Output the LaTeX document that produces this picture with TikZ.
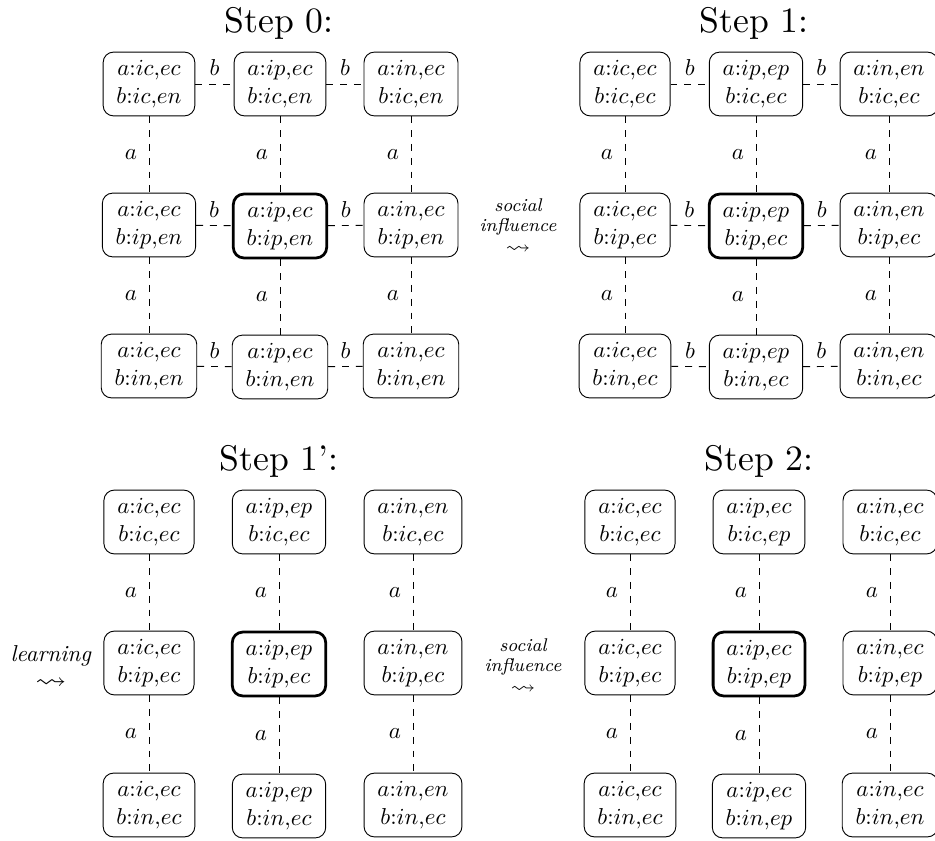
\documentclass[tikz,border=0pt]{standalone}
\usepackage{amssymb}
\usepackage{graphicx}
\usepackage{fontspec}
\newfontfamily\ttlfont{lmroman10-regular}[Extension=.otf, Ligatures=TeX]
\newcommand\abst[4]{$a{:}#1{,}#2$\\$b{:}#3{,}#4$}
\newcommand\sqarr{\scalebox{1.35}[1.1]{$\rightsquigarrow$}}
\tikzset{
  st/.style={draw, rounded corners=4.5pt, align=center, inner xsep=5.8pt, inner ysep=3.6pt},
  hi/.style={st, line width=1.2pt},
  conn/.style={dashed},
  ttl/.style={font=\ttlfont\fontsize{15.5}{18}\selectfont, anchor=base},
  side/.style={align=center},
  sideS/.style={align=center, font=\footnotesize\itshape},
}
\begin{document}
\begin{tikzpicture}[x=0.4348pt, y=-0.4348pt]
\useasboundingbox (0,0) rectangle (935,841);
% titles
\node[ttl] (t0) at (279,32) {Step 0:};
\node[ttl] (t1) at (754,32) {Step 1:};
\node[ttl] (t2) at (279,470) {Step 1’:};
\node[ttl] (t3) at (759,470) {Step 2:};
% Step 0
\node[st] (A11) at (149,84) {\abst{ic}{ec}{ic}{en}};
\node[st] (A12) at (280,84) {\abst{ip}{ec}{ic}{en}};
\node[st] (A13) at (411,84) {\abst{in}{ec}{ic}{en}};
\node[st] (A21) at (149,225) {\abst{ic}{ec}{ip}{en}};
\node[hi] (A22) at (280,226) {\abst{ip}{ec}{ip}{en}};
\node[st] (A23) at (411,225) {\abst{in}{ec}{ip}{en}};
\node[st] (A31) at (149,366) {\abst{ic}{ec}{in}{en}};
\node[st] (A32) at (280,367) {\abst{ip}{ec}{in}{en}};
\node[st] (A33) at (411,366) {\abst{in}{ec}{in}{en}};
% Step 1
\node[st] (B11) at (625,84) {\abst{ic}{ec}{ic}{ec}};
\node[st] (B12) at (756,84) {\abst{ip}{ep}{ic}{ec}};
\node[st] (B13) at (889,84) {\abst{in}{en}{ic}{ec}};
\node[st] (B21) at (625,225) {\abst{ic}{ec}{ip}{ec}};
\node[hi] (B22) at (756,226) {\abst{ip}{ep}{ip}{ec}};
\node[st] (B23) at (889,225) {\abst{in}{en}{ip}{ec}};
\node[st] (B31) at (625,366) {\abst{ic}{ec}{in}{ec}};
\node[st] (B32) at (756,367) {\abst{ip}{ep}{in}{ec}};
\node[st] (B33) at (889,366) {\abst{in}{en}{in}{ec}};
% Step 1'
\node[st] (C11) at (149,522) {\abst{ic}{ec}{ic}{ec}};
\node[st] (C12) at (279,522) {\abst{ip}{ep}{ic}{ec}};
\node[st] (C13) at (413,522) {\abst{in}{en}{ic}{ec}};
\node[st] (C21) at (149,663) {\abst{ic}{ec}{ip}{ec}};
\node[hi] (C22) at (279,664) {\abst{ip}{ep}{ip}{ec}};
\node[st] (C23) at (413,663) {\abst{in}{en}{ip}{ec}};
\node[st] (C31) at (149,805) {\abst{ic}{ec}{in}{ec}};
\node[st] (C32) at (279,806) {\abst{ip}{ep}{in}{ec}};
\node[st] (C33) at (413,805) {\abst{in}{en}{in}{ec}};
% Step 2
\node[st] (D11) at (630,522) {\abst{ic}{ec}{ic}{ec}};
\node[st] (D12) at (759,522) {\abst{ip}{ec}{ic}{ep}};
\node[st] (D13) at (890,522) {\abst{in}{ec}{ic}{ec}};
\node[st] (D21) at (630,663) {\abst{ic}{ec}{ip}{ec}};
\node[hi] (D22) at (759,664) {\abst{ip}{ec}{ip}{ep}};
\node[st] (D23) at (890,663) {\abst{in}{ec}{ip}{ep}};
\node[st] (D31) at (630,805) {\abst{ic}{ec}{in}{ec}};
\node[st] (D32) at (759,806) {\abst{ip}{ec}{in}{ep}};
\node[st] (D33) at (890,805) {\abst{in}{ec}{in}{en}};
% horizontal connectors
\foreach \g in {A,B}{
  \foreach \r in {1,2,3}{
    \draw[conn] (\g\r1) -- node[above]{$b$} (\g\r2);
    \draw[conn] (\g\r2) -- node[above]{$b$} (\g\r3);
  }
}
% vertical connectors
\foreach \g in {A,B,C,D}{
  \foreach \c in {1,2,3}{
    \draw[conn] (\g1\c) -- node[left=1.7pt]{$a$} (\g2\c);
    \draw[conn] (\g2\c) -- node[left=1.7pt]{$a$} (\g3\c);
  }
}
% side labels
\node[sideS] (si1) at (518,226) {social\\[-1pt]influence\\\sqarr};
\node[side] (lr) at (51,667) {\textit{learning}\\\sqarr};
\node[sideS] (si2) at (523,666) {social\\[-1pt]influence\\\sqarr};
\end{tikzpicture}
\end{document}
